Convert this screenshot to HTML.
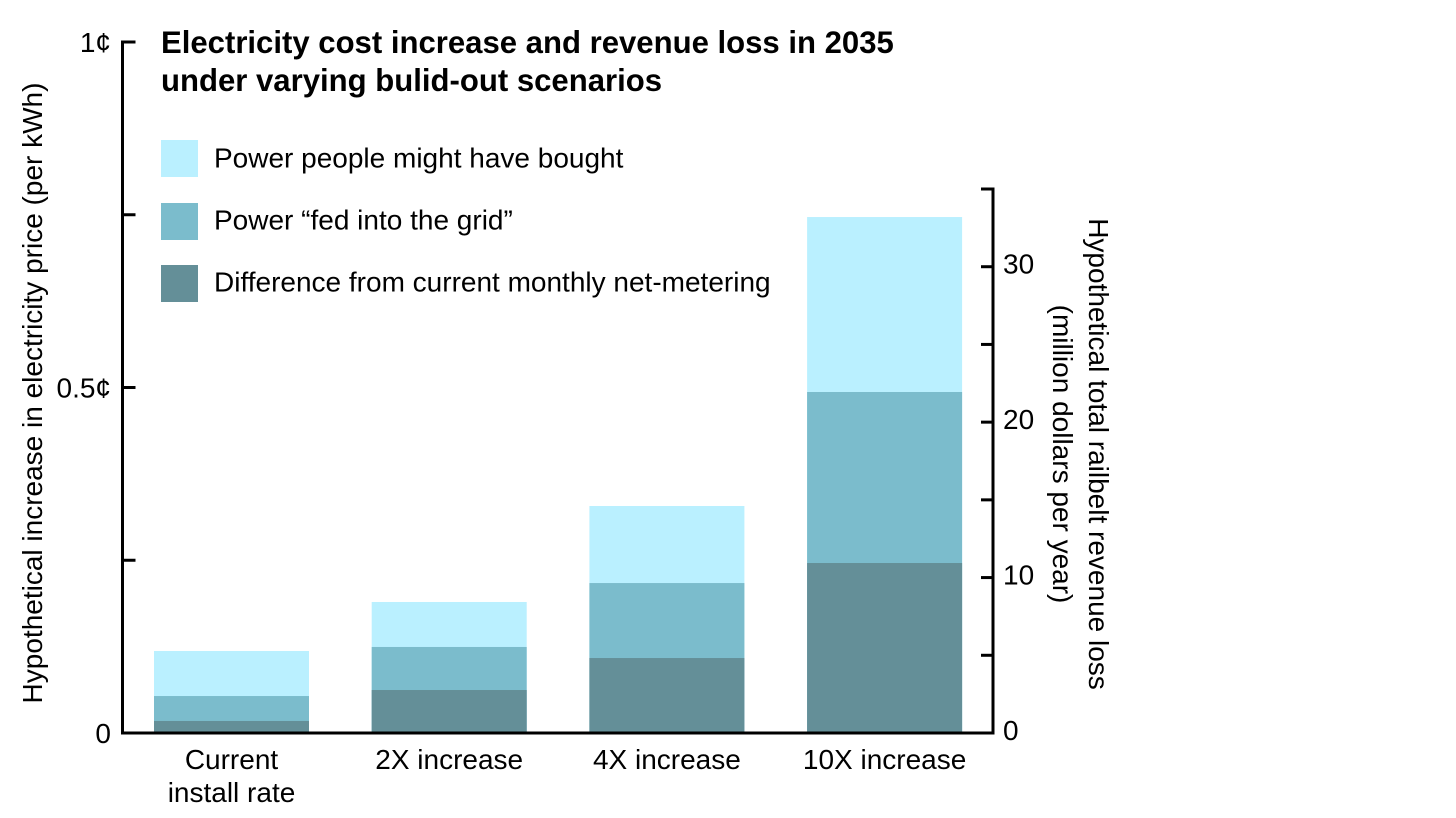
<!DOCTYPE html>
<html lang="en">
<head>
<meta charset="utf-8">
<title>Electricity cost increase and revenue loss in 2035</title>
<style>
html,body{margin:0;padding:0;background:#fff;width:1456px;height:818px;overflow:hidden}
svg{display:block;font-family:"Liberation Sans",Arial,sans-serif;fill:#000}
</style>
</head>
<body>
<svg id="chart" width="1456" height="818" viewBox="0 0 1456 818" xmlns="http://www.w3.org/2000/svg">
<g id="bars"></g>
<g id="axes"></g>
<text x="161" y="53" font-size="31.1" font-weight="700">Electricity cost increase and revenue loss in 2035</text>
<text x="161" y="91" font-size="31.1" font-weight="700">under varying bulid-out scenarios</text>
<g>
<rect x="161" y="140" width="37" height="37" fill="#baf0ff"/>
<text x="214" y="167.5" font-size="28">Power people might have bought</text>
<rect x="161" y="203" width="37" height="37" fill="#7bbccc"/>
<text x="214" y="229.5" font-size="28">Power “fed into the grid”</text>
<rect x="161" y="265" width="37" height="37" fill="#648f98"/>
<text x="214" y="291.5" font-size="28">Difference from current monthly net-metering</text>
</g>
<text transform="translate(42,393) rotate(-90)" text-anchor="middle" font-size="28">Hypothetical increase in electricity price (per kWh)</text>
<text transform="translate(1089,454) rotate(90)" text-anchor="middle" font-size="28">Hypothetical total railbelt revenue loss</text>
<text transform="translate(1053,454) rotate(90)" text-anchor="middle" font-size="28">(million dollars per year)</text>
</svg>
<script>
const categories = [["Current", "install rate"], ["2X increase"], ["4X increase"], ["10X increase"]];
const mightHaveBought = [0.1187, 0.1896, 0.3285, 0.7467];
const fedIntoGrid = [0.0535, 0.1245, 0.217, 0.4935];
const netMeteringDifference = [0.0174, 0.0622, 0.1085, 0.246];
const leftTicks = [0, 0.25, 0.5, 0.75, 1];
const leftTickLabels = ["0", "", "0.5¢", "", "1¢"];
const rightTicks = [0, 5, 10, 15, 20, 25, 30, 35];
const rightTickLabels = ["0", "", "10", "", "20", "", "30", ""];

const NS = "http://www.w3.org/2000/svg";
const PLOT_BOTTOM = 733, PLOT_TOP = 42, LEFT_X = 122.5, RIGHT_X = 993;
const RIGHT_TOP = 189, RIGHT_MAX = 35;
const BAR_START = 154, BAR_STEP = 217.7, BAR_WIDTH = 155;

function yLeft(v) { return PLOT_BOTTOM - v * (PLOT_BOTTOM - PLOT_TOP); }
function yRight(v) { return PLOT_BOTTOM - v / RIGHT_MAX * (PLOT_BOTTOM - RIGHT_TOP); }
function xBand(i) { return BAR_START + i * BAR_STEP; }

function make(tag, attrs, parent, text) {
  const el = document.createElementNS(NS, tag);
  for (const k in attrs) el.setAttribute(k, attrs[k]);
  if (text !== undefined) el.textContent = text;
  parent.appendChild(el);
  return el;
}

const barsG = document.getElementById("bars");
const axesG = document.getElementById("axes");

function drawSeries(values, color, seriesName) {
  values.forEach(function (v, i) {
    const top = yLeft(v);
    const r = make("rect", { x: xBand(i), y: top, width: BAR_WIDTH, height: PLOT_BOTTOM - top, fill: color }, barsG);
    
    
  });
}
drawSeries(mightHaveBought, "#baf0ff", "might-have-bought");
drawSeries(fedIntoGrid, "#7bbccc", "fed-into-grid");
drawSeries(netMeteringDifference, "#648f98", "net-metering-difference");

const axisStyle = { stroke: "#000", "stroke-width": 3, fill: "none" };
function line(x1, y1, x2, y2, name) {
  const l = make("line", Object.assign({ x1: x1, y1: y1, x2: x2, y2: y2 }, axisStyle), axesG);
  
  
}
line(LEFT_X, yLeft(1) - 1.5, LEFT_X, PLOT_BOTTOM + 1.5, "left-y-axis-line");
line(RIGHT_X, yRight(RIGHT_MAX) - 1.5, RIGHT_X, PLOT_BOTTOM + 1.5, "right-y-axis-line");
line(LEFT_X, PLOT_BOTTOM, RIGHT_X, PLOT_BOTTOM, "x-axis-line");

leftTicks.forEach(function (t, i) {
  const y = yLeft(t);
  if (t > 0) line(LEFT_X, y, LEFT_X + 13, y, "left-tick-" + i);
  if (leftTickLabels[i]) {
    const lab = make("text", { x: 111, y: y + 10, "text-anchor": "end", "font-size": 28 }, axesG, leftTickLabels[i]);
    
    
  }
});

rightTicks.forEach(function (t, i) {
  const y = yRight(t);
  if (t > 0) line(RIGHT_X - 12, y, RIGHT_X, y, "right-tick-" + i);
  if (rightTickLabels[i]) {
    const lab = make("text", { x: 1003, y: y + 7, "font-size": 28 }, axesG, rightTickLabels[i]);
    
    
  }
});

categories.forEach(function (lines, i) {
  lines.forEach(function (txt, j) {
    const lab = make("text", { x: xBand(i) + BAR_WIDTH / 2, y: 769 + j * 33, "text-anchor": "middle", "font-size": 28 }, axesG, txt);
    
    
  });
});
</script>
</body>
</html>
